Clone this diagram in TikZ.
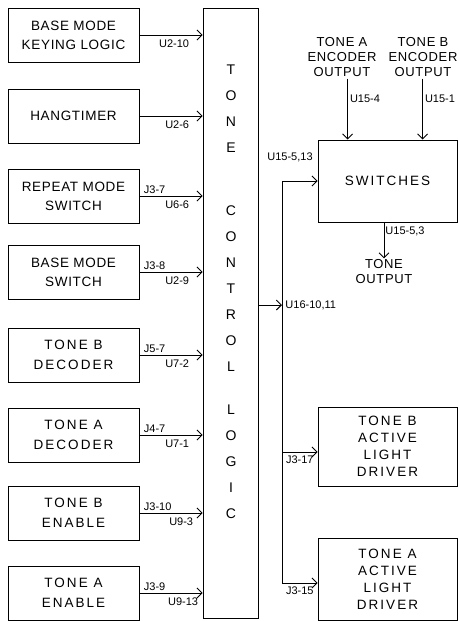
\documentclass[tikz,border=0pt]{standalone}
\usepackage{fontspec}
\setmainfont{Liberation Sans}
\newfontfamily\boxfont[LetterSpace=5]{Liberation Sans}
\newfontfamily\widefont[LetterSpace=15]{Liberation Sans}
\usetikzlibrary{arrows.meta}

\tikzset{
  unit/.style={draw, line width=0.9pt, minimum width=131pt, minimum height=54pt,
    inner sep=0pt, align=center, font={\boxfont\fontsize{13.5}{19}\selectfont}},
  unitwide/.style={unit, font={\widefont\fontsize{13.5}{20}\selectfont}},
  driver/.style={unit, minimum width=139pt, font={\widefont\fontsize{13.5}{17}\selectfont}},
  txt/.style={align=center, inner sep=1pt, font={\boxfont\fontsize{13}{15}\selectfont}},
  ctlword/.style={align=center, inner sep=0pt, font={\fontsize{14}{26}\selectfont}},
  pin/.style={inner sep=1pt, font={\fontsize{11}{12}\selectfont}},
  jtag/.style={pin, pos=0, anchor=south west, xshift=3pt, yshift=1pt},
  utag/.style={pin, pos=1, anchor=north east, xshift=-12pt, yshift=-3pt},
  arr/.style={-{Straight Barb[length=5pt,width=10pt]}}
}

\begin{document}
\begin{tikzpicture}[x=1pt,y=-1pt,line width=0.9pt]
  \useasboundingbox (0,0) rectangle (458,621);

  % inputs
  \node[unit] (keying) at (73.5,35) {BASE MODE\\KEYING LOGIC};
  \node[unit] (hang) at (73.5,116) {HANGTIMER};
  \node[unit] (repeat) at (73.5,196) {REPEAT MODE\\SWITCH};
  \node[unit] (basesw) at (73.5,272) {BASE MODE\\SWITCH};
  \node[unitwide] (decB) at (73.5,355) {TONE B\\DECODER};
  \node[unitwide] (decA) at (73.5,435) {TONE A\\DECODER};
  \node[unitwide] (enB) at (73.5,513) {TONE B\\ENABLE};
  \node[unitwide] (enA) at (73.5,593) {TONE A\\ENABLE};

  % tone control logic
  \node[draw, minimum width=55pt, minimum height=610pt, inner sep=0pt] (logic) at (230.5,313) {};
  \node[ctlword] (wTone) at (231,109) {T\\O\\N\\E};
  \node[ctlword] (wControl) at (231,289) {C\\O\\N\\T\\R\\O\\L};
  \node[ctlword] (wLogic) at (231,462) {L\\O\\G\\I\\C};

  \draw[arr] (keying.east) -- (keying.east -| logic.west) node[utag] {U2-10};
  \draw[arr] (hang.east) -- (hang.east -| logic.west) node[utag] {U2-6};
  \draw[arr] (repeat.east) -- (repeat.east -| logic.west)
    node[jtag] {J3-7} node[utag] {U6-6};
  \draw[arr] (basesw.east) -- (basesw.east -| logic.west)
    node[jtag] {J3-8} node[utag] {U2-9};
  \draw[arr] (decB.east) -- (decB.east -| logic.west)
    node[jtag] {J5-7} node[utag] {U7-2};
  \draw[arr] (decA.east) -- (decA.east -| logic.west)
    node[jtag] {J4-7} node[utag] {U7-1};
  \draw[arr] (enB.east) -- (enB.east -| logic.west)
    node[jtag] {J3-10} node[utag, xshift=4pt] {U9-3};
  \draw[arr] (enA.east) -- (enA.east -| logic.west)
    node[jtag] {J3-9} node[utag, xshift=9pt] {U9-13};

  % switches and encoders
  \node[draw, minimum width=139pt, minimum height=82pt, inner sep=0pt,
    font={\widefont\fontsize{13.5}{17}\selectfont}] (sw) at (387.5,181) {SWITCHES};
  \node[txt] (encA) at (342,57.5) {TONE A\\ENCODER\\OUTPUT};
  \node[txt] (encB) at (423,57.5) {TONE B\\ENCODER\\OUTPUT};
  \path (sw.north west) ++(30,0) coordinate (inA) ++(75,0) coordinate (inB);
  \draw[arr] (encA.south -| inA) -- (inA) node[pin, pos=0.33, right, xshift=1pt] {U15-4};
  \draw[arr] (encB.south -| inB) -- (inB) node[pin, pos=0.33, right, xshift=1pt] {U15-1};

  \node[txt] (tout) at (384,272) {TONE\\OUTPUT};
  \draw[arr] (sw.south -| tout.north) -- (tout.north) node[pin, pos=0.25, right] {U15-5,3};

  % drivers
  \node[driver, minimum height=79pt] (drvB) at (387.5,446.5) {TONE B\\ACTIVE\\LIGHT\\DRIVER};
  \node[driver, minimum height=82pt] (drvA) at (387.5,579) {TONE A\\ACTIVE\\LIGHT\\DRIVER};

  % bus
  \coordinate (busIn) at (282,305);
  \coordinate (busB) at (282,452);
  \coordinate (busA) at (282,583);
  \draw[arr] (busIn -| logic.east) -- (busIn) node[pin, right, xshift=2pt] {U16-10,11};
  \draw[arr] (busA) |- (sw.west);
  \node[pin] (tagSw) at (290,157) {U15-5,13};
  \draw[arr] (busB) -- (busB -| drvB.west) node[pin, pos=0.5, below, yshift=-2pt] {J3-17};
  \draw[arr] (busA) -- (busA -| drvA.west) node[pin, pos=0.5, below, yshift=-2pt] {J3-15};
\end{tikzpicture}
\end{document}
